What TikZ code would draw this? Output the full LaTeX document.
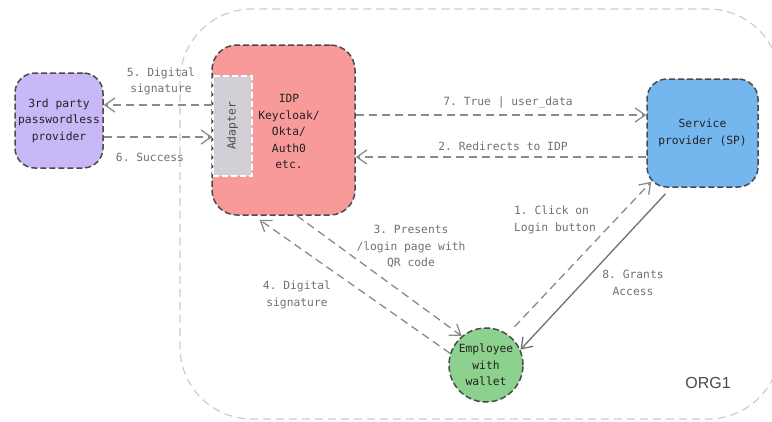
\documentclass[tikz,border=0pt]{standalone}
\usepackage{fontspec}
\setmonofont{DejaVu Sans Mono}
\setsansfont{Liberation Sans}
\usetikzlibrary{arrows.meta}

\definecolor{partyfill}{HTML}{C9B8F7}
\definecolor{idpfill}{HTML}{F99A9A}
\definecolor{spfill}{HTML}{74B6EE}
\definecolor{empfill}{HTML}{8CD18E}
\definecolor{adapterfill}{HTML}{D2D0D6}
\definecolor{boxline}{HTML}{4A4A4A}
\definecolor{flowline}{HTML}{8A8A8A}
\definecolor{grantline}{HTML}{707070}
\definecolor{nodetext}{HTML}{222222}
\definecolor{msgtext}{HTML}{707070}
\definecolor{orgline}{HTML}{CCCCCC}

\tikzset{
	box/.style={draw=boxline, line width=1.5pt, dash pattern=on 6pt off 3pt,
		rounded corners=20pt, align=center, text=nodetext, inner sep=0pt,
		font=\ttfamily\fontsize{11.3}{16.5}\selectfont},
	flow/.style={draw=flowline, line width=1.3pt, dash pattern=on 8pt off 5pt,
		-{Straight Barb[length=10pt,width=14pt]}},
	grant/.style={flow, solid, draw=grantline},
	msg/.style={text=msgtext, align=center, inner sep=0pt,
		font=\ttfamily\fontsize{11.3}{16.5}\selectfont},
	org/.style={draw=orgline, line width=1.2pt, dash pattern=on 8pt off 5pt,
		rounded corners=72pt}
}

\begin{document}
\begin{tikzpicture}[x=1pt,y=-1pt]
	
	\useasboundingbox (0,0) rectangle (772,421);
	
	% Organisation boundary with label
	\draw[org] (180,9) rectangle (780,419);
	\node[text=boxline, font=\sffamily\fontsize{16}{19}\selectfont] (orglabel) at (708,383) {ORG1};
	
	% Boxes
	\node[box, fill=partyfill, minimum width=88pt, minimum height=95pt] (party) at (59,120.5)
	{3rd party\\passwordless\\provider};
	\node[box, fill=idpfill, rounded corners=25pt, minimum width=143pt, minimum height=170pt] (idp) at (283.5,130) {};
	\node[box, fill=adapterfill, draw=white, rounded corners=0pt, text=boxline,
	minimum width=39pt, minimum height=100pt] (adapter) at (232.5,126) {\rotatebox{90}{Adapter}};
	\node[align=center, text=nodetext, font=\ttfamily\fontsize{11.3}{16.5}\selectfont] (idptext) at (289,131.5)
	{IDP\\Keycloak/\\Okta/\\Auth0\\etc.};
	\node[box, fill=spfill, minimum width=111pt, minimum height=108pt] (sp) at (702.5,133)
	{Service\\provider (SP)};
	\node[box, circle, fill=empfill, minimum size=74pt] (emp) at (486,365)
	{Employee\\with\\wallet};
	
	% Messages
	\draw[flow] ([yshift=21pt]adapter.west) -- ([yshift=15.5pt]party.east);
	\draw[flow] ([yshift=-16.5pt]party.east) -- ([yshift=-11pt]adapter.west);
	\draw[flow] ([yshift=15pt]idp.east) -- ([yshift=18pt]sp.west);
	\draw[flow] ([yshift=-24pt]sp.west) -- ([yshift=-27pt]idp.east);
	\draw[flow] ([xshift=13.5pt]idp.south) -- (emp.130);
	\draw[flow] (emp.162) -- ([xshift=-24pt,yshift=-4pt]idp.south);
	\draw[flow, shorten <=10pt] (emp.55) -- ([xshift=5pt,yshift=6pt]sp.south west);
	\draw[grant] ([xshift=-37pt,yshift=-6pt]sp.south) -- (emp.24);
	
	\node[msg] (m5) at (161,81.5) {5. Digital\\signature};
	\node[msg] (m6) at (150,157) {6. Success};
	\node[msg] (m7) at (508,103) {7. True | user\_data};
	\node[msg] (m2) at (503,146) {2. Redirects to IDP};
	\node[msg] (m3) at (411,247) {3. Presents\\/login page with\\QR code};
	\node[msg] (m4) at (297,295) {4. Digital\\signature};
	\node[msg, align=left] (m1) at (555,220) {1. Click on\\Login button};
	\node[msg] (m8) at (633,283) {8. Grants\\Access};
	
\end{tikzpicture}
\end{document}
